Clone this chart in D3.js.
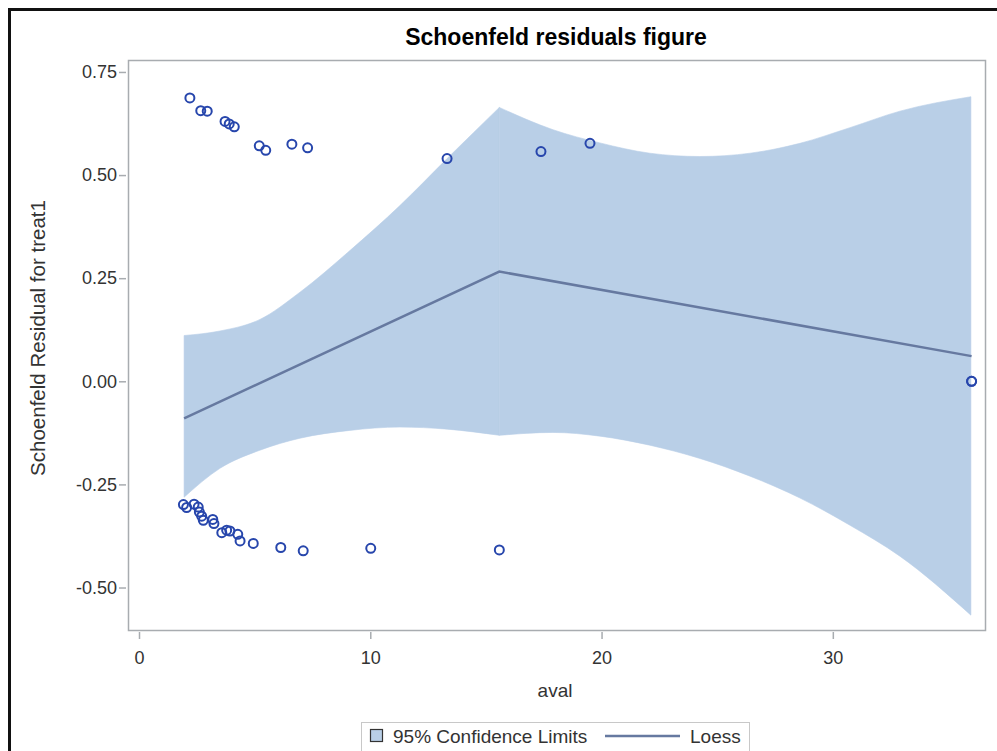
<!DOCTYPE html>
<html>
<head>
<meta charset="utf-8">
<script src="https://cdn.jsdelivr.net/npm/d3@7"></script>
<style>
  body { margin: 0; background: #fff; }
  .chart text { font-family: Arial, 'Liberation Sans', sans-serif; }
</style>
</head>
<body>
<div class="chart"></div>
<script>
// residual points
var pointX = [2.2, 2.67, 2.95, 3.72, 3.9, 4.12, 5.2, 5.48, 6.61, 7.29, 13.32, 17.38, 19.5,
  36.0, 36.0,
  1.92, 2.06, 2.38, 2.56, 2.61, 2.71, 2.78, 3.19, 3.24, 3.58, 3.79, 3.93, 4.27, 4.37,
  4.94, 6.13, 7.1, 10.02, 15.58]
var pointY = [0.687, 0.656, 0.655, 0.63, 0.624, 0.617, 0.571, 0.56, 0.575, 0.566, 0.54, 0.557, 0.577,
  0.0, 0.0,
  -0.299, -0.306, -0.298, -0.305, -0.317, -0.327, -0.337, -0.335, -0.345, -0.367, -0.361, -0.363,
  -0.371, -0.387, -0.393, -0.403, -0.411, -0.405, -0.409]

// loess fit and 95% limits (knot at index 7)
var loessX = [1.95, 15.58, 36.0]
var loessY = [-0.09, 0.266, 0.061]
var bandX = [1.95, 3.5, 5.23, 6.96, 9.12, 11.28, 13.32, 15.58, 17.9, 19.93, 22.09, 24.25, 26.42, 28.58, 30.74, 32.9, 35.97]
var bandUpper = [0.111, 0.122, 0.15, 0.216, 0.317, 0.426, 0.54, 0.664, 0.61, 0.578, 0.553, 0.545, 0.553, 0.577, 0.615, 0.655, 0.69]
var bandLower = [-0.281, -0.211, -0.167, -0.138, -0.119, -0.111, -0.116, -0.131, -0.124, -0.133, -0.155, -0.187, -0.23, -0.283, -0.349, -0.424, -0.567]
var knot = 7

var xTicks = [0, 10, 20, 30]
var yTicks = [-0.5, -0.25, 0, 0.25, 0.5, 0.75]

var W = 997
var H = 751
var margin = {top: 60, right: 12, bottom: 121, left: 128}
var width = W - margin.left - margin.right
var height = H - margin.top - margin.bottom

var x = d3.scaleLinear().domain([-0.476, 36.58]).range([0, width])
var y = d3.scaleLinear().domain([-0.603, 0.779]).range([height, 0])

var svg = d3
  .select('.chart')
  .append('svg')
  .attr('width', W)
  .attr('height', H)

// outer black frame (runs off the right and bottom edge)
svg
  .append('rect')
  .attr('x', 9.5)
  .attr('y', 9.5)
  .attr('width', W + 20)
  .attr('height', H + 20)
  .style('fill', 'none')
  .style('stroke', '#111')
  .style('stroke-width', 3)

svg
  .append('text')
  .attr('x', 556)
  .attr('y', 45)
  .attr('text-anchor', 'middle')
  .attr('font-size', '23px')
  .attr('font-weight', 'bold')
  .style('fill', '#000')
  .text('Schoenfeld residuals figure')

var g = svg
  .append('g')
  .attr('transform', 'translate(' + margin.left + ',' + margin.top + ')')

var bandData = bandX.map(function(d, i) {
  return {x: d, lo: bandLower[i], hi: bandUpper[i]}
})
var area = d3
  .area()
  .curve(d3.curveMonotoneX)
  .x(function(d) { return x(d.x) })
  .y0(function(d) { return y(d.lo) })
  .y1(function(d) { return y(d.hi) })

// two pieces so the limits keep their corner at the loess knot
;[bandData.slice(0, knot + 1), bandData.slice(knot)].forEach(function(part) {
  g.append('path')
    .datum(part)
    .attr('d', area)
    .style('fill', '#b9cfe7')
    .style('stroke', '#b9cfe7')
    .style('stroke-width', 0.6)
})

var loessData = loessX.map(function(d, i) {
  return {x: d, y: loessY[i]}
})
var line = d3
  .line()
  .x(function(d) { return x(d.x) })
  .y(function(d) { return y(d.y) })

g.append('path')
  .datum(loessData)
  .attr('d', line)
  .style('fill', 'none')
  .style('stroke', '#6679a0')
  .style('stroke-width', 2.5)

pointX.forEach(function(px, i) {
  g.append('circle')
    .attr('cx', x(px))
    .attr('cy', y(pointY[i]))
    .attr('r', 4.5)
    .style('fill', 'none')
    .style('stroke', '#2746ac')
    .style('stroke-width', 2)
})

// plot frame
g.append('rect')
  .attr('x', 0.5)
  .attr('y', 0.5)
  .attr('width', width)
  .attr('height', height)
  .style('fill', 'none')
  .style('stroke', '#a8acb0')
  .style('stroke-width', 1.5)

var xAxis = g
  .append('g')
  .attr('transform', 'translate(0,' + (height + 2) + ')')
  .call(d3.axisBottom(x).tickValues(xTicks).tickFormat(d3.format('d')).tickSize(7).tickSizeOuter(0))
var yAxis = g
  .append('g')
  .attr('transform', 'translate(-2,0)')
  .call(
    d3.axisLeft(y)
      .tickValues(yTicks)
      .tickFormat(function(d) { return d3.format('.2f')(d).replace('\u2212', '-') })
      .tickSize(7)
      .tickSizeOuter(0)
  )

;[xAxis, yAxis].forEach(function(a) {
  a.select('.domain').remove()
  a.selectAll('line').style('stroke', '#a8acb0').style('stroke-width', 1.5)
  a.selectAll('text')
    .style('fill', '#333')
    .attr('font-size', '18px')
    .attr('font-family', 'Arial, Liberation Sans, sans-serif')
})
xAxis.selectAll('text').attr('dy', '1.2em')
yAxis.selectAll('text').attr('x', -9)

svg
  .append('text')
  .attr('x', 555)
  .attr('y', 697)
  .attr('text-anchor', 'middle')
  .attr('font-size', '19px')
  .style('fill', '#333')
  .text('aval')

svg
  .append('text')
  .attr('transform', 'translate(45,' + 338 + ') rotate(-90)')
  .attr('text-anchor', 'middle')
  .attr('font-size', '20.5px')
  .style('fill', '#333')
  .text('Schoenfeld Residual for treat1')

// legend
var legend = svg.append('g')
legend
  .append('rect')
  .attr('x', 361.5)
  .attr('y', 722.5)
  .attr('width', 388)
  .attr('height', 30)
  .style('fill', '#fff')
  .style('stroke', '#c8c8c8')
legend
  .append('rect')
  .attr('x', 370.5)
  .attr('y', 729.5)
  .attr('width', 12)
  .attr('height', 12)
  .style('fill', '#b9cfe7')
  .style('stroke', '#333')
  .style('stroke-width', 1.2)
legend
  .append('text')
  .attr('x', 393)
  .attr('y', 743)
  .attr('font-size', '19px')
  .style('fill', '#333')
  .text('95% Confidence Limits')
legend
  .append('line')
  .attr('x1', 605)
  .attr('x2', 680)
  .attr('y1', 736)
  .attr('y2', 736)
  .style('stroke', '#6679a0')
  .style('stroke-width', 2.5)
legend
  .append('text')
  .attr('x', 690)
  .attr('y', 743)
  .attr('font-size', '19px')
  .style('fill', '#333')
  .text('Loess')
</script>
</body>
</html>
